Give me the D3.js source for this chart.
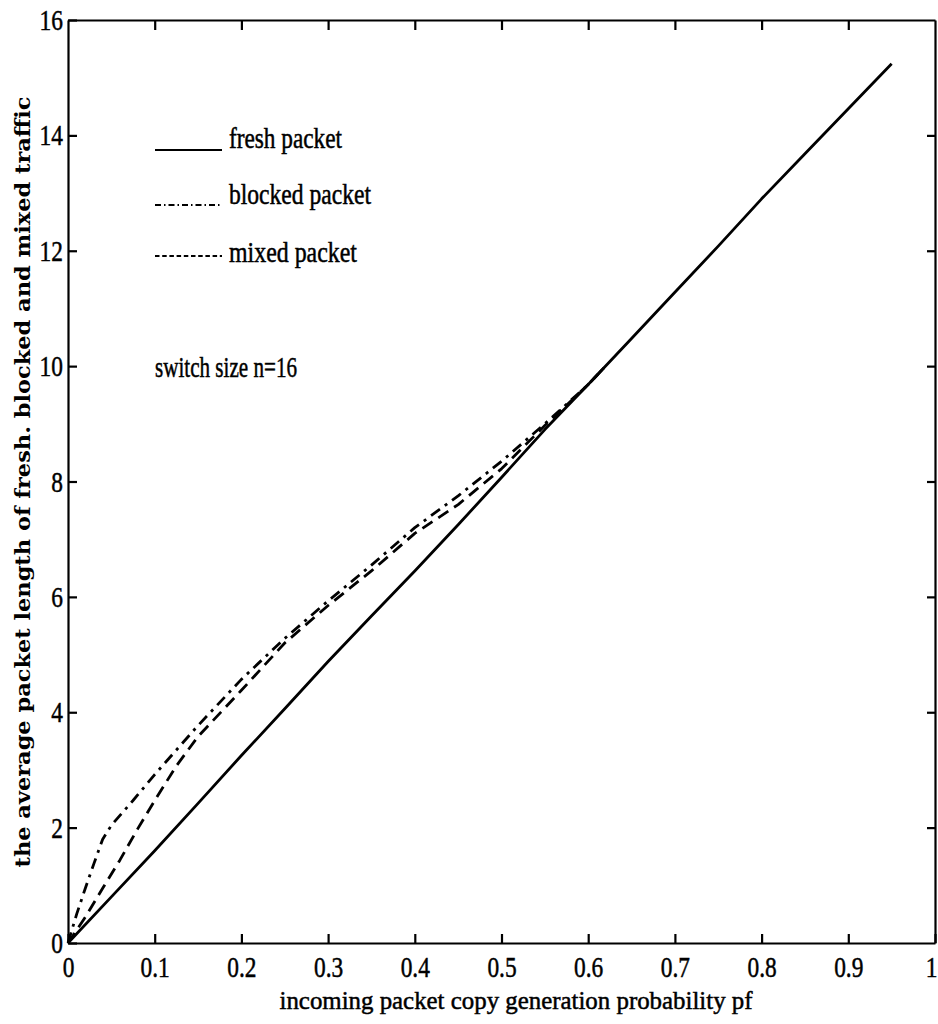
<!DOCTYPE html>
<html>
<head>
<meta charset="utf-8">
<script src="https://cdn.jsdelivr.net/npm/d3@7"></script>
<style>
	body { margin: 0; background: #fff; }
	svg { display: block; background: #fff; }
	.axis path, .axis line { stroke: #000; stroke-width: 2.2; }
	.axis text { fill: #000; }
	.curve { fill: none; stroke: #000; stroke-width: 2.8; stroke-linejoin: round; }
	.ink { fill: #000; stroke: #000; stroke-width: 0.5; }
</style>
</head>
<body>
<svg id="packet-chart" width="938" height="1024"></svg>
<script>
// tick values and labels
var xTicks = [0, 0.1, 0.2, 0.3, 0.4, 0.5, 0.6, 0.7, 0.8, 0.9, 1];
var xTickLabels = ['0', '0.1', '0.2', '0.3', '0.4', '0.5', '0.6', '0.7', '0.8', '0.9', '1'];
var yTicks = [0, 2, 4, 6, 8, 10, 12, 14, 16];
var yTickLabels = ['0', '2', '4', '6', '8', '10', '12', '14', '16'];

// series
var seriesNames = ['fresh packet', 'blocked packet', 'mixed packet'];

var freshPf = [0, 0.05, 0.1, 0.15, 0.2, 0.25, 0.3, 0.35, 0.4, 0.45, 0.5, 0.55, 0.6, 0.65, 0.7, 0.75, 0.8, 0.85, 0.9, 0.95];
var freshLength = [0, 0.8, 1.6, 2.42, 3.25, 4.06, 4.88, 5.67, 6.45, 7.25, 8.07, 8.9, 9.68, 10.48, 11.28, 12.08, 12.9, 13.68, 14.46, 15.24];

var blockedPf = [0, 0.01, 0.02, 0.03, 0.04, 0.05, 0.075, 0.1, 0.15, 0.2, 0.25, 0.3, 0.35, 0.4, 0.45, 0.5, 0.55, 0.6, 0.62];
var blockedLength = [0, 0.5, 0.95, 1.38, 1.8, 2.04, 2.47, 2.92, 3.77, 4.57, 5.28, 5.93, 6.55, 7.2, 7.75, 8.35, 9.0, 9.68, 10.0];

var mixedPf = [0, 0.02, 0.04, 0.06, 0.08, 0.1, 0.125, 0.15, 0.2, 0.25, 0.3, 0.35, 0.4, 0.45, 0.5, 0.55, 0.6, 0.62];
var mixedLength = [0, 0.45, 0.95, 1.44, 1.97, 2.47, 3.07, 3.58, 4.38, 5.2, 5.85, 6.45, 7.1, 7.6, 8.22, 8.97, 9.68, 10.0];

window.app = window.app || {};

app.packetChart = (function() {

	'use strict';

	var serif = '"Liberation Serif", "Times New Roman", serif';

	/**
	* zip pf and length arrays into points
	* @returns {Array}
	*/
	var toPoints = function(pf, len) {
		return pf.map(function(p, i) {
			return { pf: p, len: len[i] };
		});
	};

	/**
	* draw the whole chart
	* @returns {undefined}
	*/
	var createChart = function() {
		var svg = d3.select('#packet-chart'),
			margin = {
				top: 20,
				right: 3,
				bottom: 81,
				left: 68
			},
			width = +svg.attr('width') - margin.left - margin.right,
			height = +svg.attr('height') - margin.top - margin.bottom;

		var xScale = d3.scaleLinear()
				.domain([0, 1])
				.range([0, width]);

		var yScale = d3.scaleLinear()
				.domain([0, 16])
				.range([height, 0]);

		var series = [
			{ name: seriesNames[0], points: toPoints(freshPf, freshLength), dash: null, legendDash: null },
			{ name: seriesNames[1], points: toPoints(blockedPf, blockedLength), dash: '11,6,3,6', legendDash: '6,3,1.5,3' },
			{ name: seriesNames[2], points: toPoints(mixedPf, mixedLength), dash: '12,7', legendDash: '4.5,2.7' }
		];

		var g = svg.append('g')
			.attr('transform', 'translate(' + margin.left + ',' + margin.top + ')');

		// axes, ticks pointing inward on all four sides
		var xAxis = d3.axisBottom(xScale)
				.tickValues(xTicks)
				.tickFormat(function(d, i) { return xTickLabels[i]; })
				.tickSizeInner(-9)
				.tickSizeOuter(0)
				.tickPadding(13),
			yAxis = d3.axisLeft(yScale)
				.tickValues(yTicks)
				.tickFormat(function(d, i) { return yTickLabels[i]; })
				.tickSizeInner(-9)
				.tickSizeOuter(0)
				.tickPadding(5),
			topAxis = d3.axisTop(xScale)
				.tickValues(xTicks.slice(1, -1))
				.tickFormat('')
				.tickSizeInner(-10)
				.tickSizeOuter(0),
			rightAxis = d3.axisRight(yScale)
				.tickValues(yTicks.slice(1, -1))
				.tickFormat('')
				.tickSizeInner(-8)
				.tickSizeOuter(0);

		var gx = g.append('g')
			.attr('class', 'axis')
			.attr('transform', 'translate(0,' + height + ')')
			.call(xAxis);

		var gy = g.append('g')
			.attr('class', 'axis')
			.call(yAxis);

		g.append('g')
			.attr('class', 'axis')
			.call(topAxis);

		g.append('g')
			.attr('class', 'axis')
			.attr('transform', 'translate(' + width + ',0)')
			.call(rightAxis);

		// condensed serif tick labels like the scanned figure
		gx.attr('font-family', serif).attr('font-size', 30);
		gx.selectAll('text')
			.attr('class', 'ink')
			.attr('transform', 'scale(0.78,1)')
			.attr('dx', function(d, i) { return i === xTicks.length - 1 ? -5 : 0; });
		gy.attr('font-family', serif).attr('font-size', 30);
		gy.selectAll('text')
			.attr('class', 'ink')
			.attr('x', -6.4)
			.attr('transform', 'scale(0.78,1)');

		// curves
		var line = d3.line()
			.x(function(d) { return xScale(d.pf); })
			.y(function(d) { return yScale(d.len); });

		g.selectAll('.curve')
			.data(series)
			.enter()
			.append('path')
			.attr('class', 'curve')
			.attr('d', function(d) { return line(d.points); })
			.attr('stroke-dasharray', function(d) { return d.dash; });

		// legend
		var legendY = [150, 205, 256],
			legendBase = [148, 204, 262],
			legendLen = [113, 142, 128];

		var legend = svg.append('g');

		legend.selectAll('line')
			.data(series)
			.enter()
			.append('line')
			.attr('x1', 155)
			.attr('x2', 222)
			.attr('y1', function(d, i) { return legendY[i]; })
			.attr('y2', function(d, i) { return legendY[i]; })
			.attr('stroke', '#000')
			.attr('stroke-width', 2)
			.attr('stroke-dasharray', function(d) { return d.legendDash; });

		legend.selectAll('text')
			.data(series)
			.enter()
			.append('text')
			.attr('class', 'ink')
			.attr('x', 229)
			.attr('y', function(d, i) { return legendBase[i]; })
			.attr('font-family', serif)
			.attr('font-size', 29)
			.attr('textLength', function(d, i) { return legendLen[i]; })
			.attr('lengthAdjust', 'spacingAndGlyphs')
			.text(function(d) { return d.name; });

		svg.append('text')
			.attr('class', 'ink')
			.attr('x', 155)
			.attr('y', 377)
			.attr('font-family', serif)
			.attr('font-size', 29)
			.attr('textLength', 142)
			.attr('lengthAdjust', 'spacingAndGlyphs')
			.text('switch size n=16');

		// axis titles
		svg.append('text')
			.attr('class', 'ink')
			.attr('x', 516)
			.attr('y', 1009)
			.attr('text-anchor', 'middle')
			.attr('font-family', serif)
			.attr('font-size', 26)
			.attr('textLength', 473)
			.attr('lengthAdjust', 'spacingAndGlyphs')
			.text('incoming packet copy generation probability pf');

		svg.append('text')
			.attr('transform', 'translate(30,482) rotate(-90)')
			.attr('text-anchor', 'middle')
			.attr('font-family', '"DejaVu Serif", serif')
			.attr('font-weight', 'bold')
			.attr('font-size', 21)
			.attr('textLength', 771)
			.attr('lengthAdjust', 'spacingAndGlyphs')
			.text('the average packet length of fresh. blocked and mixed traffic');
	};

	/**
	* @returns {undefined}
	*/
	var init = function() {
		createChart();
	};

	return {
		init: init
	};

})();

app.packetChart.init();
</script>
</body>
</html>
